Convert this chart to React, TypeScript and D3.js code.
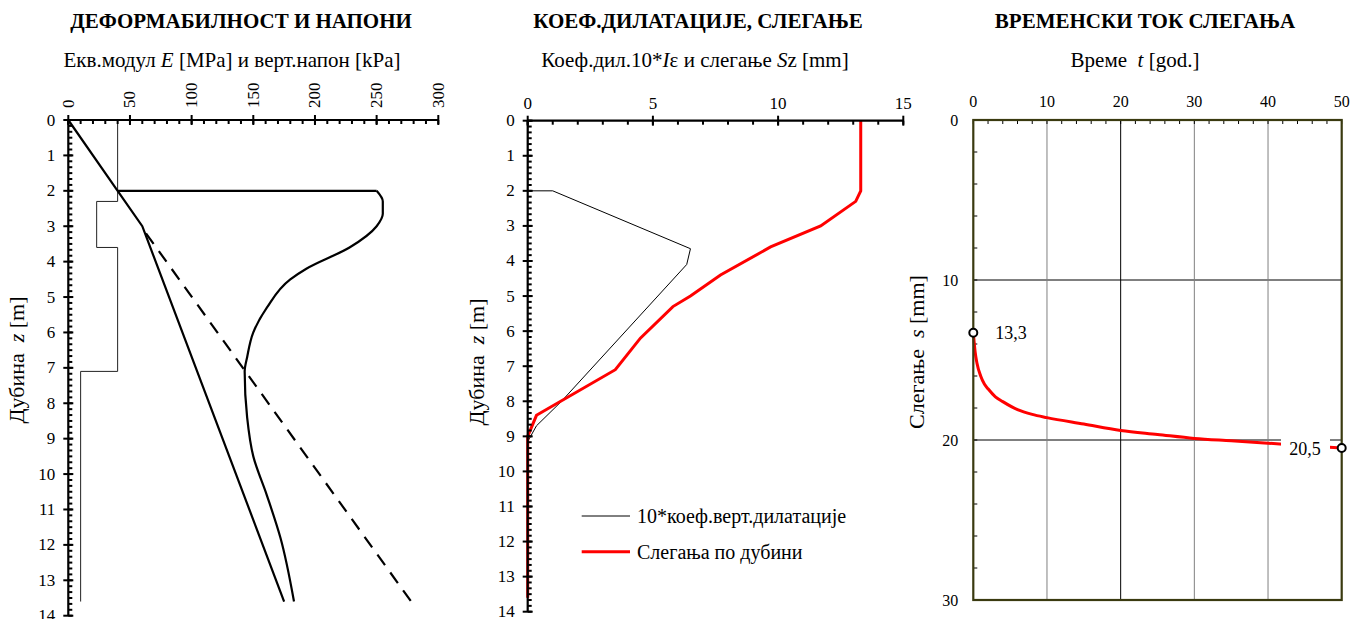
import * as d3 from 'd3';
import * as React from 'react';

const W = 1350;
const H = 619;
const FONT = "'Liberation Serif', 'DejaVu Serif', serif";

// panel 1: deformability and stresses
const layerTop = [0, 2.3, 3.6, 7.1];
const layerBottom = [2.3, 3.6, 7.1, 13.6];
const layerE = [40, 23, 40, 10];
const geoDepth = [0, 2, 3, 13.6];
const geoStress = [0, 40, 60, 175];
const totDepth = [2, 2, 2.3, 2.65, 3, 3.6, 4.2, 4.5, 5.3, 6, 6.7, 7.1, 8.4, 9.5, 10.6, 11.8, 13.6];
const totStress = [40, 250, 255, 255, 250, 228, 193, 180, 161, 150, 145, 143, 145, 150, 161, 172, 183];
const limDepth = [3.2, 13.6];
const limStress = [63, 278];
const p1Ticks = [0, 50, 100, 150, 200, 250, 300];

// panel 2: dilatation coefficient, settlement
const dilDepth = [0, 2, 2, 3.65, 4.1, 8, 8.7, 9.15, 13.6];
const dilCoef = [0, 0, 1, 6.5, 6.35, 1.35, 0.35, 0, 0];
const setDepth = [0, 2, 2.3, 3, 3.6, 4.4, 5, 5.3, 6.2, 7.1, 8.4, 9, 13.6];
const setValue = [13.3, 13.3, 13.1, 11.7, 9.7, 7.7, 6.5, 5.8, 4.5, 3.5, 0.35, 0, 0];
const p2Ticks = [0, 5, 10, 15];
const depthTicks = d3.range(0, 15);

// panel 3: settlement in time
const years = [0, 0.1, 0.25, 0.5, 1, 1.5, 2, 3, 4, 6, 8, 10, 15, 20, 25, 30, 35, 40, 45, 50];
const settleT = [13.3, 13.8, 14.5, 15.2, 16.0, 16.5, 16.8, 17.3, 17.6, 18.1, 18.4, 18.6, 19.0, 19.4, 19.65, 19.9, 20.05, 20.2, 20.35, 20.5];
const p3xTicks = [0, 10, 20, 30, 40, 50];
const p3yTicks = [0, 10, 20, 30];
const startLabel = '13,3';
const endLabel = '20,5';

const x1 = d3.scaleLinear().domain([0, 300]).range([68.3, 438.3]);
const y1 = d3.scaleLinear().domain([0, 14]).range([120, 615.7]);
const x2 = d3.scaleLinear().domain([0, 15]).range([527.7, 903.3]);
const y2 = d3.scaleLinear().domain([0, 14]).range([120.7, 611.7]);
const x3 = d3.scaleLinear().domain([0, 50]).range([973.3, 1341.7]);
const y3 = d3.scaleLinear().domain([0, 30]).range([120, 600]);

type XY = [number, number];

function pathOf(xs: number[], ys: number[], sx: any, sy: any, curve: any = d3.curveLinear) {
  const pts: XY[] = xs.map((v, i) => [v, ys[i]]);
  return d3
    .line<XY>()
    .x(d => sx(d[0]))
    .y(d => sy(d[1]))
    .curve(curve)(pts) as string;
}

function DepthAxes({ sx, sy, xTicks, minorStep, rotate }: any) {
  const [x0, x1e] = sx.range();
  const [y0, y1e] = sy.range();
  const minorX = d3.range(sx.domain()[0], sx.domain()[1] + 1e-6, minorStep);
  const minorY = d3.range(0, 14 + 1e-6, 1 / 6);
  return (
    <g stroke="#000">
      <line x1={x0} x2={x1e} y1={y0} y2={y0} strokeWidth={2.2} />
      <line x1={x0} x2={x0} y1={y0} y2={y1e} strokeWidth={2.2} />
      {minorX.map((v: number) => (
        <line key={'mx' + v} x1={sx(v)} x2={sx(v)} y1={y0} y2={y0 + 4} strokeWidth={2} />
      ))}
      {xTicks.map((v: number) => (
        <line key={'Mx' + v} x1={sx(v)} x2={sx(v)} y1={y0 - 5} y2={y0 + 5} strokeWidth={2} />
      ))}
      {minorY.map((v: number) => (
        <line key={'my' + v} x1={x0} x2={x0 + 4} y1={sy(v)} y2={sy(v)} strokeWidth={2} />
      ))}
      {depthTicks.map(v => (
        <line key={'My' + v} x1={x0 - 5} x2={x0 + 5} y1={sy(v)} y2={sy(v)} strokeWidth={2} />
      ))}
      <g stroke="none" fill="#000" fontSize={17}>
        {depthTicks.map(v => (
          <text key={'ly' + v} x={x0 - 13} y={sy(v)} textAnchor="end" dominantBaseline="central">
            {v}
          </text>
        ))}
        {xTicks.map((v: number) =>
          rotate ? (
            <text
              key={'lx' + v}
              transform={`translate(${sx(v)},${y0 - 12}) rotate(-90)`}
              dominantBaseline="central"
            >
              {v}
            </text>
          ) : (
            <text key={'lx' + v} x={sx(v)} y={y0 - 12} textAnchor="middle">
              {v}
            </text>
          )
        )}
      </g>
    </g>
  );
}

export default function App() {
  const stepPts: XY[] = [];
  layerE.forEach((e, i) => {
    stepPts.push([e, layerTop[i]]);
    stepPts.push([e, layerBottom[i]]);
  });
  const stepPath = d3
    .line<XY>()
    .x(d => x1(d[0]))
    .y(d => y1(d[1]))(stepPts) as string;

  // horizontal jump at foundation level, then a smooth curve with depth
  const jumpPath = pathOf(totStress.slice(0, 2), totDepth.slice(0, 2), x1, y1);
  const totCurve = pathOf(totStress.slice(1), totDepth.slice(1), x1, y1, d3.curveMonotoneY);

  const p3MinorX = d3.range(0, 50.01, 2);
  const p3MinorY = d3.range(0, 30.01, 2);
  const pre = { whiteSpace: 'pre' as const };

  return (
    <svg
      width={W}
      height={H}
      style={{ position: 'absolute', left: 0, top: 0, background: '#fff', fontFamily: FONT }}
    >
      <rect width={W} height={H} fill="#fff" />

      {/* titles */}
      <g fill="#000" textAnchor="middle" fontSize={21}>
        <text x={241} y={28} fontWeight="bold">ДЕФОРМАБИЛНОСТ И НАПОНИ</text>
        <text x={232} y={67}>
          Екв.модул <tspan fontStyle="italic">E</tspan> [MPa] и верт.напон [kPa]
        </text>
        <text x={698} y={28} fontWeight="bold">КОЕФ.ДИЛАТАЦИЈЕ, СЛЕГАЊЕ</text>
        <text x={695} y={67}>
          Коеф.дил.10*<tspan fontStyle="italic">I</tspan>ε и слегање <tspan fontStyle="italic">S</tspan>z [mm]
        </text>
        <text x={1145} y={28} fontWeight="bold">ВРЕМЕНСКИ ТОК СЛЕГАЊА</text>
        <text x={1135} y={67} style={pre}>
          {'Време  '}<tspan fontStyle="italic">t</tspan>{' [god.]'}
        </text>
      </g>
      <g fill="#000" textAnchor="middle" fontSize={22}>
        <text transform="translate(24,360) rotate(-90)" style={pre}>
          {'Дубина  '}<tspan fontStyle="italic">z</tspan>{' [m]'}
        </text>
        <text transform="translate(484,362) rotate(-90)" style={pre}>
          {'Дубина  '}<tspan fontStyle="italic">z</tspan>{' [m]'}
        </text>
        <text transform="translate(924,352) rotate(-90)" style={pre}>
          {'Слегање  '}<tspan fontStyle="italic">s</tspan>{' [mm]'}
        </text>
      </g>

      {/* panel 1 */}
      <g fill="none" stroke="#000">
        <path d={stepPath} strokeWidth={1} stroke="#222" />
        <path d={pathOf(geoStress, geoDepth, x1, y1)} strokeWidth={2.2} />
        <path d={jumpPath} strokeWidth={2.2} />
        <path d={totCurve} strokeWidth={2.2} />
        <path d={pathOf(limStress, limDepth, x1, y1)} strokeWidth={2.2} strokeDasharray="13,9" />
      </g>
      <DepthAxes sx={x1} sy={y1} xTicks={p1Ticks} minorStep={10} rotate />

      {/* panel 2 */}
      <g fill="none">
        <path d={pathOf(dilCoef, dilDepth, x2, y2)} stroke="#000" strokeWidth={1} />
        <path d={pathOf(setValue, setDepth, x2, y2)} stroke="#ff0000" strokeWidth={3} />
      </g>
      <DepthAxes sx={x2} sy={y2} xTicks={p2Ticks} minorStep={1} rotate={false} />
      <g fontSize={20} fill="#000">
        <line x1={581.7} x2={630} y1={516} y2={516} stroke="#000" strokeWidth={1} />
        <text x={637} y={516} dominantBaseline="central">10*коеф.верт.дилатације</text>
        <line x1={581.7} x2={630} y1={551.7} y2={551.7} stroke="#ff0000" strokeWidth={3} />
        <text x={637} y={551.7} dominantBaseline="central">Слегања по дубини</text>
      </g>

      {/* panel 3 */}
      <g>
        {[10, 20].map(v => (
          <line key={'gh' + v} x1={x3(0)} x2={x3(50)} y1={y3(v)} y2={y3(v)} stroke="#000" strokeWidth={1} />
        ))}
        {[10, 20, 30, 40].map(v => (
          <line
            key={'gv' + v}
            x1={x3(v)}
            x2={x3(v)}
            y1={y3(0)}
            y2={y3(30)}
            stroke={v === 20 ? '#000' : '#808080'}
            strokeWidth={1}
          />
        ))}
        {p3MinorX.map(v => (
          <line key={'tx' + v} x1={x3(v)} x2={x3(v)} y1={y3(0)} y2={y3(0) + 4} stroke="#000" strokeWidth={1} />
        ))}
        {p3MinorY.map(v => (
          <line key={'ty' + v} x1={x3(0)} x2={x3(0) + 4} y1={y3(v)} y2={y3(v)} stroke="#000" strokeWidth={1} />
        ))}
        <path
          d={pathOf(years, settleT, x3, y3, d3.curveMonotoneX)}
          fill="none"
          stroke="#ff0000"
          strokeWidth={3}
        />
        <rect x={1281} y={437} width={49} height={22} fill="#fff" />
        <rect
          x={x3(0)}
          y={y3(0)}
          width={x3(50) - x3(0)}
          height={y3(30) - y3(0)}
          fill="none"
          stroke="#3a3a10"
          strokeWidth={2.2}
        />
        <circle cx={x3(years[0])} cy={y3(settleT[0])} r={4} fill="#fff" stroke="#000" strokeWidth={2} />
        <circle
          cx={x3(years[years.length - 1])}
          cy={y3(settleT[settleT.length - 1])}
          r={4}
          fill="#fff"
          stroke="#000"
          strokeWidth={2}
        />
        <g fontSize={18} fill="#000">
          <text x={x3(years[0]) + 22} y={y3(settleT[0])} dominantBaseline="central">{startLabel}</text>
          <text x={1305} y={449} textAnchor="middle" dominantBaseline="central">{endLabel}</text>
        </g>
        <g fontSize={16} fill="#000">
          {p3xTicks.map(v => (
            <text key={'x3' + v} x={x3(v)} y={y3(0) - 13} textAnchor="middle">{v}</text>
          ))}
          {p3yTicks.map(v => (
            <text key={'y3' + v} x={x3(0) - 15} y={y3(v)} textAnchor="end" dominantBaseline="central">{v}</text>
          ))}
        </g>
      </g>
    </svg>
  );
}
